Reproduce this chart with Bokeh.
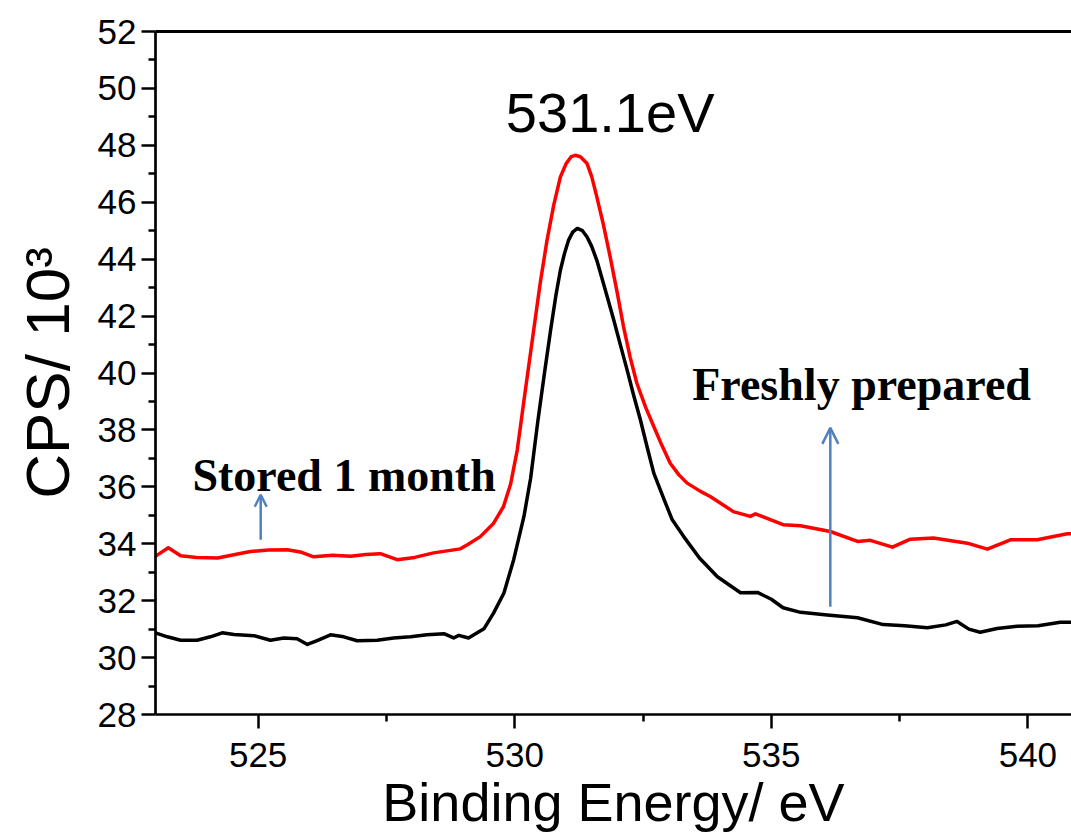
from bokeh.plotting import figure
from bokeh.models import FixedTicker, LinearAxis, Arrow, OpenHead, Range1d, ColumnDataSource
from bokeh.core.properties import value
from bokeh.embed import file_html
from bokeh.resources import INLINE

# ---- data ----
black_x = [523.00, 523.23, 523.49, 523.81, 524.07, 524.30, 524.53, 524.92, 525.24, 525.50,
           525.76, 525.96, 526.15, 526.41, 526.67, 526.93, 527.32, 527.64, 527.97, 528.29,
           528.62, 528.81, 528.91, 529.10, 529.40, 529.59, 529.79, 529.98, 530.18, 530.31,
           530.45, 530.58, 530.70, 530.80, 530.89, 530.97, 531.05, 531.13, 531.22, 531.32,
           531.41, 531.50, 531.60, 531.76, 531.93, 532.06, 532.19, 532.32, 532.45, 532.58,
           532.71, 532.90, 533.07, 533.29, 533.60, 533.95, 534.40, 534.73, 535.00, 535.23,
           535.57, 536.09, 536.68, 537.18, 537.60, 538.04, 538.40, 538.62, 538.85, 539.07,
           539.40, 539.79, 540.20, 540.63, 540.86]
black_y = [30.87, 30.73, 30.61, 30.61, 30.73, 30.87, 30.81, 30.77, 30.61, 30.69,
           30.66, 30.46, 30.60, 30.80, 30.73, 30.59, 30.61, 30.69, 30.73, 30.80,
           30.84, 30.69, 30.78, 30.69, 31.01, 31.57, 32.27, 33.44, 34.96, 36.30,
           38.30, 40.00, 41.51, 42.70, 43.61, 44.20, 44.67, 44.95, 45.08, 45.00,
           44.78, 44.45, 43.96, 42.95, 41.86, 40.98, 40.11, 39.20, 38.35, 37.40,
           36.48, 35.60, 34.84, 34.26, 33.50, 32.84, 32.28, 32.29, 32.05, 31.75,
           31.59, 31.50, 31.40, 31.16, 31.12, 31.05, 31.15, 31.27, 31.00, 30.89,
           31.02, 31.10, 31.12, 31.24, 31.24]

red_x = [523.00, 523.04, 523.25, 523.49, 523.80, 524.21, 524.55, 524.85, 525.20, 525.57,
         525.85, 526.08, 526.45, 526.80, 527.10, 527.38, 527.71, 528.05, 528.42, 528.94,
         529.07, 529.33, 529.58, 529.78, 529.92, 530.05, 530.20, 530.37, 530.50, 530.63,
         530.76, 530.89, 531.00, 531.10, 531.18, 531.28, 531.41, 531.50, 531.60, 531.73,
         531.86, 532.00, 532.12, 532.25, 532.38, 532.55, 532.71, 532.87, 533.03, 533.20,
         533.36, 533.62, 533.81, 534.26, 534.59, 534.69, 535.23, 535.57, 536.15, 536.68,
         536.93, 537.36, 537.71, 538.16, 538.82, 539.21, 539.66, 540.18, 540.77, 540.86]
red_y = [33.56, 33.61, 33.86, 33.58, 33.52, 33.50, 33.62, 33.73, 33.78, 33.79,
         33.70, 33.54, 33.60, 33.56, 33.62, 33.65, 33.44, 33.52, 33.68, 33.82,
         33.96, 34.25, 34.70, 35.30, 36.10, 37.30, 39.30, 41.51, 43.20, 44.67,
         45.90, 46.89, 47.35, 47.60, 47.65, 47.60, 47.36, 46.90, 46.19, 45.20,
         44.08, 42.80, 41.63, 40.55, 39.64, 38.80, 38.12, 37.45, 36.83, 36.42,
         36.13, 35.84, 35.66, 35.13, 34.96, 35.05, 34.67, 34.63, 34.43, 34.08,
         34.12, 33.88, 34.16, 34.20, 34.02, 33.81, 34.14, 34.14, 34.35, 34.35]

x_major = [525, 530, 535, 540]
x_minor = [522.5, 527.5, 532.5, 537.5]
y_major = list(range(28, 53, 2))
y_minor = list(range(29, 52, 2))

peak_label = "531.1eV"
peak_pos = (531.86, 49.16)
labels = ["Stored 1 month", "Freshly prepared"]
label_x = [523.72, 533.46]
label_y = [36.39, 39.61]
arrows = [  # x, y_start, y_end
    (525.05, 34.14, 35.72),
    (536.15, 31.79, 38.07),
]

SANS = "Liberation Sans"
SERIF = "Liberation Serif"

p = figure(width=1071, height=834, output_backend="svg", toolbar_location=None,
           x_range=Range1d(523, 540.85), y_range=Range1d(28, 52),
           min_border_left=155, min_border_top=31, min_border_bottom=119, min_border_right=0)
p.outline_line_color = None
p.grid.visible = False
p.background_fill_color = "white"

for ax, ticks, minor in ((p.xaxis[0], x_major, x_minor), (p.yaxis[0], y_major, y_minor)):
    ax.ticker = FixedTicker(ticks=ticks, minor_ticks=minor)
    ax.axis_line_width = 2.7
    ax.axis_line_color = "black"
    ax.major_tick_line_width = 2.5
    ax.minor_tick_line_width = 2.5
    ax.major_tick_in = 0
    ax.major_tick_out = 14
    ax.minor_tick_in = 0
    ax.minor_tick_out = 7
    ax.major_label_text_font = SANS
    ax.major_label_text_font_size = "35px"
    ax.major_label_text_color = "black"
    ax.axis_label_text_font = SANS
    ax.axis_label_text_font_style = "normal"
    ax.axis_label_text_color = "black"

p.xaxis[0].axis_label = "Binding Energy/ eV"
p.xaxis[0].axis_label_text_font_size = "54px"
p.xaxis[0].major_label_standoff = 14
p.xaxis[0].axis_label_standoff = 2
p.yaxis[0].axis_label = "CPS/ 10³"
p.yaxis[0].axis_label_text_font_size = "62px"
p.yaxis[0].major_label_standoff = 5
p.yaxis[0].axis_label_standoff = 13

top = LinearAxis(ticker=FixedTicker(ticks=[]), major_tick_out=0, major_tick_in=0,
                 minor_tick_out=0, minor_tick_in=0, major_label_text_font_size="0px",
                 axis_line_width=3, axis_line_color="black")
p.add_layout(top, "above")

p.line(red_x, red_y, line_color="red", line_width=3.5, line_join="round")
p.line(black_x, black_y, line_color="black", line_width=3.5, line_join="round")

p.text(x=[peak_pos[0]], y=[peak_pos[1]], text=[peak_label], text_font=value(SANS),
       text_font_size="56px", text_align="center", text_baseline="alphabetic", text_color="black")

src = ColumnDataSource(dict(x=label_x, y=label_y, t=labels))
p.text(x="x", y="y", text="t", source=src, text_font=value(SERIF), text_font_style="bold",
       text_font_size="46px", text_align="left", text_baseline="alphabetic", text_color="black")

for i, (ax_, y0, y1) in enumerate(arrows):
    size = 12 if i == 0 else 16
    p.add_layout(Arrow(end=OpenHead(size=size, line_color="#4F81BD", line_width=2.5),
                       x_start=ax_, y_start=y0, x_end=ax_, y_end=y1,
                       line_color="#4F81BD", line_width=2.5))

open("out.html", "w").write(file_html(p, INLINE))
